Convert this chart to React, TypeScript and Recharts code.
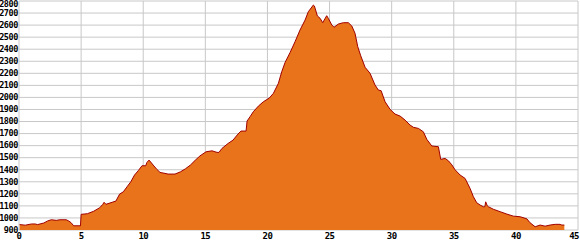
import React from 'react';
import { AreaChart, Area, XAxis, YAxis, CartesianGrid } from 'recharts';

// distance along route (km)
const distances = [
  0.05, 0.5, 1.0, 1.3, 1.5, 2.0, 2.3, 2.6, 3.0, 3.3, 3.8, 4.0, 4.2, 4.4, 4.95,
  5.0, 5.5, 6.0, 6.5, 6.75, 6.85, 7.0, 7.5, 7.8, 8.1, 8.4, 8.7, 9.0, 9.3, 9.6,
  9.9, 10.2, 10.3, 10.47, 10.8, 11.1, 11.35, 11.5, 12.0, 12.56, 13.0, 13.4, 13.8,
  14.2, 14.57, 15.06, 15.54, 15.94, 16.1, 16.34, 16.83, 17.23, 17.63, 17.87,
  18.28, 18.36, 18.6, 18.86, 19.27, 19.67, 20.15, 20.48, 20.88, 21.15, 21.42,
  21.82, 22.22, 22.62, 23.03, 23.29, 23.7, 23.78, 24.02, 24.24, 24.45, 24.77,
  24.9, 25.18, 25.36, 25.71, 26.11, 26.51, 26.79, 27.05, 27.27, 27.51, 27.86,
  28.26, 28.66, 28.93, 29.15, 29.47, 29.87, 30.27, 30.68, 31.08, 31.48, 31.75,
  32.15, 32.55, 32.83, 33.23, 33.76, 33.95, 34.3, 34.57, 34.85, 35.1, 35.51,
  35.91, 36.31, 36.58, 36.85, 37.12, 37.38, 37.5, 37.57, 37.7, 37.79, 38.19,
  38.73, 39.27, 39.8, 40.34, 40.88, 41.14, 41.55, 41.95, 42.35, 42.75, 43.16,
  43.56, 43.7, 43.9,
];

// elevation (m)
const elevations = [
  945, 940, 950, 950, 945, 958, 975, 985, 980, 985, 985, 975, 960, 935, 935,
  1030, 1035, 1055, 1085, 1113, 1130, 1113, 1130, 1140, 1198, 1217, 1259, 1300, 1356, 1392,
  1433, 1433, 1461, 1480, 1439, 1403, 1378, 1375, 1364, 1364, 1383, 1408, 1439,
  1480, 1515, 1549, 1557, 1544, 1544, 1577, 1618, 1646, 1696, 1721,
  1721, 1804, 1840, 1881, 1928, 1964, 1995, 2034, 2117, 2213, 2290,
  2372, 2462, 2559, 2642, 2711, 2767, 2759, 2676, 2656, 2620, 2678,
  2656, 2601, 2582, 2609, 2620, 2620, 2593, 2532, 2421, 2345, 2250,
  2200, 2103, 2061, 2056, 1964, 1901, 1862, 1845, 1812, 1771, 1752,
  1743, 1715, 1652, 1597, 1591, 1486, 1494, 1474, 1440, 1400, 1356,
  1328, 1245, 1176, 1126, 1107, 1093, 1093, 1134, 1100, 1093, 1072,
  1052, 1032, 1015, 1010, 993, 960, 927, 941, 932, 941, 947,
  947, 941, 941,
];

const xTicks = [0, 5, 10, 15, 20, 25, 30, 35, 40, 45];
const yTicks = [900, 1000, 1100, 1200, 1300, 1400, 1500, 1600, 1700, 1800, 1900,
  2000, 2100, 2200, 2300, 2400, 2500, 2600, 2700, 2800];

const data = distances.map((d, i) => ({ km: d, elev: elevations[i] }));

const FONT = '"DejaVu Sans Mono", monospace';

const YTick = (props: any) => {
  const { x, y, payload } = props;
  // nudge the top label down so it stays inside the picture
  const top = payload.value === 2800;
  return (
    <text x={x} y={top ? y + 3 : y} dy="0.33em" textAnchor="end"
      fontFamily={FONT} fontSize={8.5} fontWeight="bold" letterSpacing={-0.4} fill="#000">
      {payload.value}
    </text>
  );
};

const XTick = (props: any) => {
  const { x, y, payload } = props;
  const last = payload.value === 45;
  return (
    <text x={last ? x - 4 : x} y={y} dy="0.71em" textAnchor="middle"
      fontFamily={FONT} fontSize={9} fontWeight="bold" letterSpacing={-0.6} fill="#000">
      {payload.value}
    </text>
  );
};

export default function App() {
  return (
    <div style={{ position: 'absolute', left: 0, top: 0, width: 580, height: 250, background: '#fff' }}>
      <AreaChart width={580} height={250} data={data}
        margin={{ top: 1, right: 2, left: 0, bottom: 0 }}>
        <CartesianGrid stroke="#c8c8c8" strokeWidth={1} />
        <XAxis dataKey="km" type="number" domain={[0, 45]} ticks={xTicks}
          height={20} axisLine={false} tickLine={false} tickSize={0} tickMargin={3}
          tick={<XTick />} interval={0} />
        <YAxis type="number" domain={[900, 2800]} ticks={yTicks}
          width={19} axisLine={false} tickLine={false} tickSize={0} tickMargin={1}
          tick={<YTick />} interval={0} />
        <Area type="linear" dataKey="elev" stroke="#a00000" strokeWidth={1}
          fill="#e9731b" fillOpacity={1} isAnimationActive={false} dot={false}
          activeDot={false} />
      </AreaChart>
    </div>
  );
}
